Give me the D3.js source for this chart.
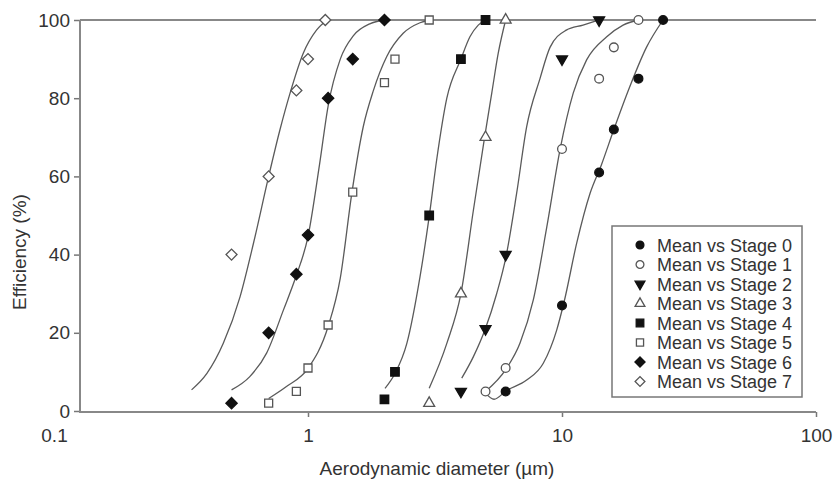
<!DOCTYPE html>
<html lang="en">

<head>
    <meta charset="UTF-8">
    <title>Stage efficiency curves</title>
    <style>
        body { margin: 0; background: #fff; }
        text { font-family: "Liberation Sans", Arial, sans-serif; fill: #333; }
    </style>
</head>

<body>
    <div id="chart"></div>
    <script src="https://cdnjs.cloudflare.com/ajax/libs/d3/7.8.5/d3.min.js"></script>
    <script>

        // legend names
        var stageNames = ["Mean vs Stage 0", "Mean vs Stage 1", "Mean vs Stage 2", "Mean vs Stage 3",
            "Mean vs Stage 4", "Mean vs Stage 5", "Mean vs Stage 6", "Mean vs Stage 7"]

        // measured points (diameter in um, efficiency in %)
        var diam0 = [6, 10, 14, 16, 20, 25]
        var eff0 = [5, 27, 61, 72, 85, 100]
        var diam1 = [5, 6, 10, 14, 16, 20]
        var eff1 = [5, 11, 67, 85, 93, 100]
        var diam2 = [4, 5, 6, 10, 14]
        var eff2 = [5, 21, 40, 90, 100]
        var diam3 = [3, 4, 5, 6]
        var eff3 = [2, 30, 70, 100]
        var diam4 = [2, 2.2, 3, 4, 5]
        var eff4 = [3, 10, 50, 90, 100]
        var diam5 = [0.7, 0.9, 1.0, 1.2, 1.5, 2.0, 2.2, 3.0]
        var eff5 = [2, 5, 11, 22, 56, 84, 90, 100]
        var diam6 = [0.5, 0.7, 0.9, 1.0, 1.2, 1.5, 2.0]
        var eff6 = [2, 20, 35, 45, 80, 90, 100]
        var diam7 = [0.5, 0.7, 0.9, 1.0, 1.17]
        var eff7 = [40, 60, 82, 90, 100]

        // fitted curves
        var fitD0 = [5.0, 5.4, 6.04, 7.26, 8.44, 9.53, 10.2, 11.43, 12.9, 14.3, 16, 18.5, 21.5, 25]
        var fitE0 = [4.5, 3.0, 5.2, 7.9, 12.2, 20.7, 28, 43, 55.7, 63, 72, 83, 93, 100]
        var fitD1 = [5.0, 6.02, 6.83, 7.71, 8.71, 9.82, 11.07, 12.5, 15, 17.4, 20]
        var fitE1 = [5.0, 10.7, 17.3, 28.4, 47, 66.8, 81.3, 89.8, 95.7, 98.7, 100]
        var fitD2 = [4.03, 4.48, 4.97, 5.53, 6.02, 6.63, 7.26, 8.19, 8.97, 10.4, 12.1, 14]
        var fitE2 = [8.4, 13.9, 20.7, 30, 39.5, 55.7, 72.7, 85, 93, 97.4, 98.7, 100]
        var fitD3 = [3.0, 3.52, 4.0, 4.48, 4.95, 5.29, 5.61, 6.0]
        var fitE3 = [5.8, 17.3, 30, 51.4, 69.7, 81.3, 91.5, 100]
        var fitD4 = [2.01, 2.2, 2.45, 2.76, 3.0, 3.21, 3.52, 4.0, 4.34, 4.68, 5.0]
        var fitE4 = [5.8, 9.6, 17.3, 34.3, 49.7, 64.2, 80, 90, 95.7, 98.7, 100]
        var fitD5 = [0.70, 0.82, 1.0, 1.2, 1.34, 1.49, 1.65, 1.81, 2.04, 2.37, 2.76, 3.0]
        var fitE5 = [3.2, 6.2, 10.9, 21.6, 34, 56, 72.7, 82, 90.6, 96.6, 99.3, 100]
        var fitD6 = [0.50, 0.59, 0.687, 0.80, 0.90, 1.0, 1.11, 1.2, 1.34, 1.51, 1.75, 2.0]
        var fitE6 = [5.4, 8.8, 14.8, 25.8, 34.7, 44.6, 63, 78, 90, 96, 99, 100]
        var fitD7 = [0.348, 0.40, 0.464, 0.54, 0.61, 0.70, 0.776, 0.85, 0.958, 1.08, 1.19]
        var fitE7 = [5.4, 9.6, 17.3, 29.2, 42.9, 60, 72, 81.3, 91.5, 97.4, 100]

        var xTicks = [0.1, 1, 10, 100]
        var yTicks = [0, 20, 40, 60, 80, 100]

        var pointsD = [diam0, diam1, diam2, diam3, diam4, diam5, diam6, diam7]
        var pointsE = [eff0, eff1, eff2, eff3, eff4, eff5, eff6, eff7]
        var fitsD = [fitD0, fitD1, fitD2, fitD3, fitD4, fitD5, fitD6, fitD7]
        var fitsE = [fitE0, fitE1, fitE2, fitE3, fitE4, fitE5, fitE6, fitE7]

        // marker style per stage
        var markers = [
            { type: d3.symbolCircle, size: 60, filled: true, rot: 0 },
            { type: d3.symbolCircle, size: 60, filled: false, rot: 0 },
            { type: d3.symbolTriangle, size: 52, filled: true, rot: 180 },
            { type: d3.symbolTriangle, size: 52, filled: false, rot: 0 },
            { type: d3.symbolSquare, size: 72, filled: true, rot: 0 },
            { type: d3.symbolSquare, size: 64, filled: false, rot: 0 },
            { type: d3.symbolSquare, size: 64, filled: true, rot: 45 },
            { type: d3.symbolSquare, size: 60, filled: false, rot: 45 }
        ]

        var width = 837, height = 480
        var axisX = 80, plotRight = 816

        var svg = d3.select("#chart")
            .append("svg")
            .attr("width", width)
            .attr("height", height)

        var x = d3.scaleLog()
            .domain([0.1, 100])
            .range([54, 816])

        var y = d3.scaleLinear()
            .domain([0, 100])
            .range([411, 20])

        // top line at 100 %
        svg.append("line")
            .attr("x1", axisX).attr("x2", plotRight)
            .attr("y1", y(100)).attr("y2", y(100))
            .attr("stroke", "#888").attr("stroke-width", 2)

        // X axis
        var xAxis = svg.append("g")
            .attr("transform", "translate(0," + (y(0) + 1) + ")")
            .call(d3.axisBottom(x).tickValues(xTicks).tickFormat(d3.format("")).tickSize(5).tickPadding(12))
        xAxis.select(".domain").remove()
        xAxis.selectAll(".tick line").attr("stroke", "#777").attr("stroke-width", 1.5)
            .filter(function (d) { return d < 0.5 }).remove()
        xAxis.selectAll(".tick text").style("font-size", "19px").attr("fill", "#333")
        svg.append("line")
            .attr("x1", axisX).attr("x2", plotRight)
            .attr("y1", y(0) + 1).attr("y2", y(0) + 1)
            .attr("stroke", "#888").attr("stroke-width", 2)

        // Y axis
        var yAxis = svg.append("g")
            .attr("transform", "translate(" + axisX + ",0)")
            .call(d3.axisLeft(y).tickValues(yTicks).tickSize(6).tickPadding(4))
        yAxis.select(".domain").remove()
        yAxis.selectAll(".tick line").attr("stroke", "#777").attr("stroke-width", 1.5)
        yAxis.selectAll(".tick text").style("font-size", "19px").attr("fill", "#333")
        svg.append("line")
            .attr("x1", axisX).attr("x2", axisX)
            .attr("y1", y(100)).attr("y2", y(0) + 2)
            .attr("stroke", "#888").attr("stroke-width", 2)

        // axis titles
        svg.append("text")
            .attr("x", 437).attr("y", 475)
            .attr("text-anchor", "middle")
            .style("font-size", "19px")
            .text("Aerodynamic diameter (\u00b5m)")
        svg.append("text")
            .attr("transform", "translate(26,252) rotate(-90)")
            .attr("text-anchor", "middle")
            .style("font-size", "19px")
            .text("Efficiency (%)")

        // fitted curves
        var line = d3.line()
            .curve(d3.curveMonotoneX)
            .x(function (d) { return x(d[0]) })
            .y(function (d) { return y(d[1]) })

        for (var i = 0; i < 8; i++) {
            var pts = fitsD[i].map(function (d, j) { return [d, fitsE[i][j]] })
            svg.append("path")
                .datum(pts)
                .attr("fill", "none")
                .attr("stroke", "#5a5a5a")
                .attr("stroke-width", 1.3)
                .attr("d", line)
        }

        function drawMarker(g, m) {
            g.append("path")
                .attr("d", d3.symbol().type(m.type).size(m.size))
                .attr("transform", "rotate(" + m.rot + ")")
                .attr("fill", m.filled ? "#111" : "#fff")
                .attr("stroke", m.filled ? "#111" : "#555")
                .attr("stroke-width", 1.3)
        }

        // measured points
        for (var i = 0; i < 8; i++) {
            var m = markers[i]
            pointsD[i].forEach(function (d, j) {
                var g = svg.append("g")
                    .attr("transform", "translate(" + x(d) + "," + y(pointsE[i][j]) + ")")
                drawMarker(g, m)
            })
        }

        // legend
        var legend = svg.append("g").attr("transform", "translate(612,226)")
        legend.append("rect")
            .attr("width", 190).attr("height", 171)
            .attr("fill", "#fff")
            .attr("stroke", "#777").attr("stroke-width", 1.5)
        stageNames.forEach(function (name, i) {
            var row = legend.append("g").attr("transform", "translate(28," + (19 + i * 19.5) + ")")
            drawMarker(row, { type: markers[i].type, size: markers[i].size * 0.8, filled: markers[i].filled, rot: markers[i].rot })
            row.append("text")
                .attr("x", 17).attr("y", 6.5)
                .style("font-size", "18px")
                .text(name)
        })

    </script>
</body>

</html>
